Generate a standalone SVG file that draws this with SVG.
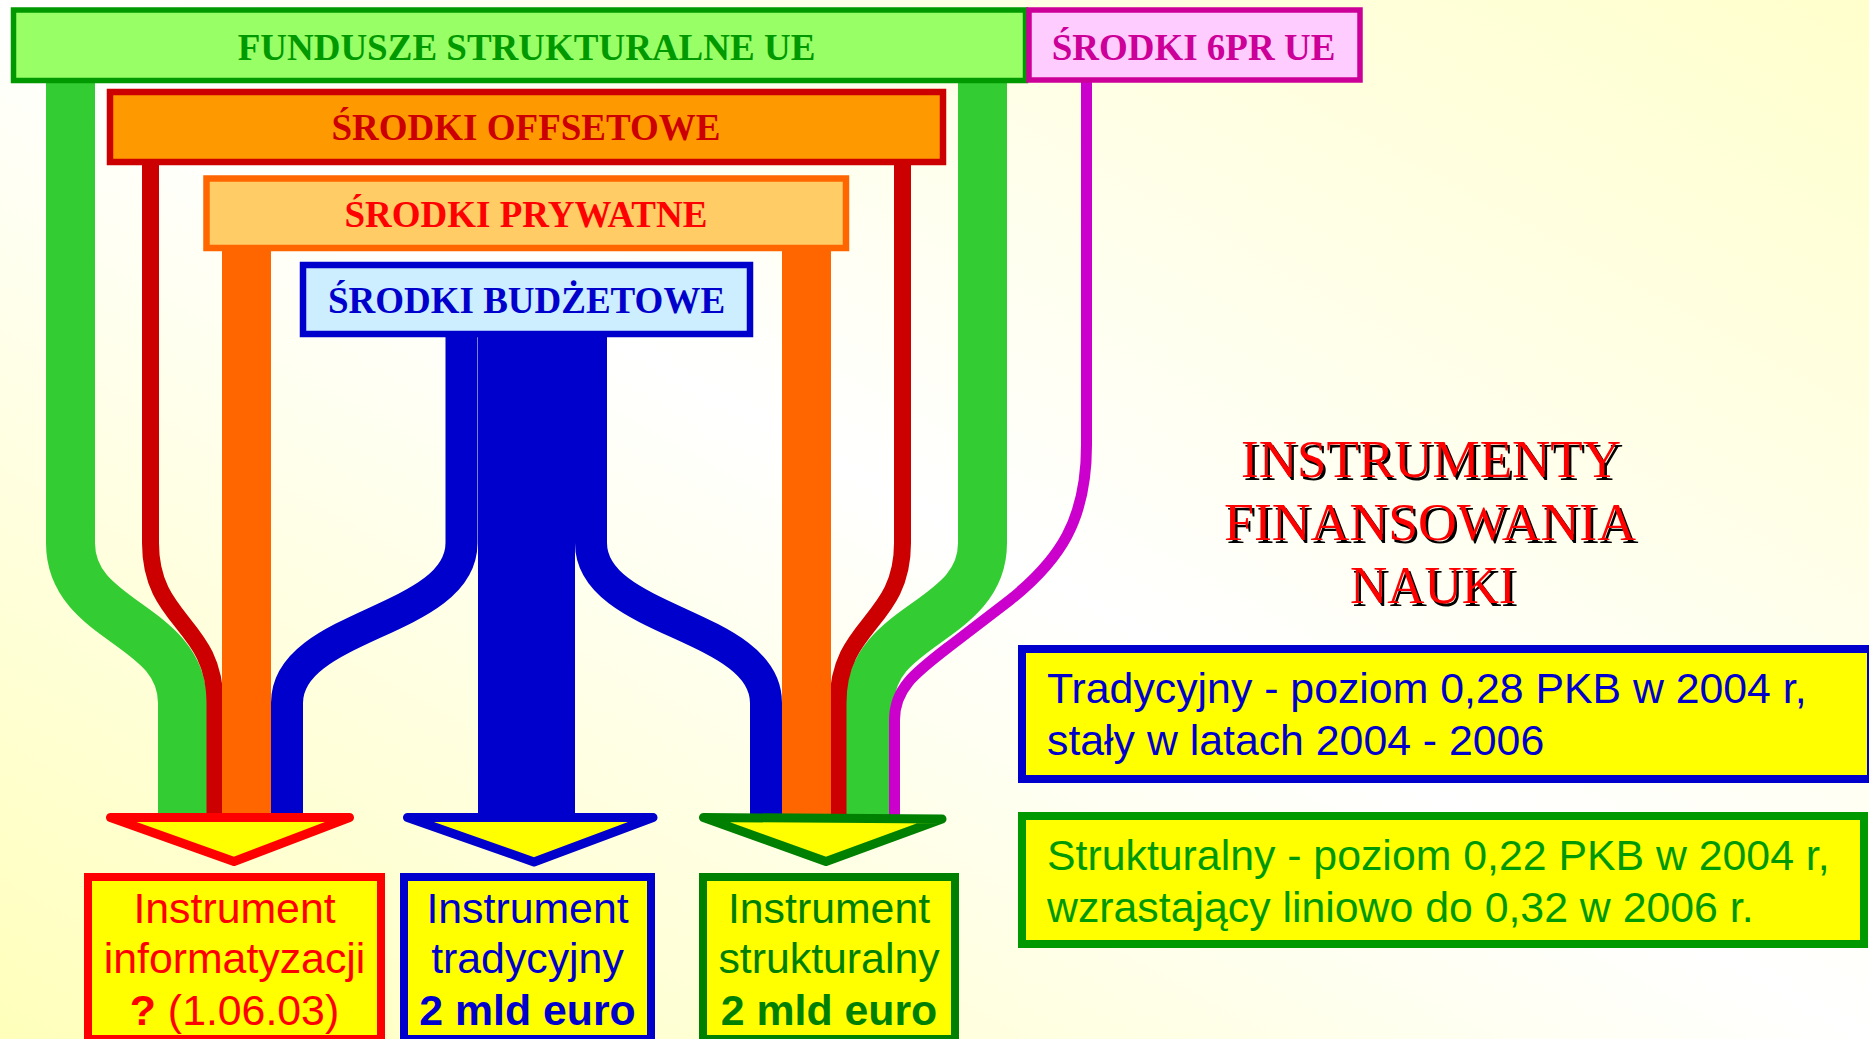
<svg xmlns="http://www.w3.org/2000/svg" width="1869" height="1039" viewBox="0 0 1869 1039">
<defs>
<linearGradient id="bg" x1="0" y1="1" x2="1" y2="0">
<stop offset="0" stop-color="#FFFFBB"/>
<stop offset="0.5" stop-color="#FFFFFF"/>
<stop offset="1" stop-color="#FFFFCC"/>
</linearGradient>
<style>
.hdr{font-family:"Liberation Serif","Times New Roman",serif;font-weight:bold;font-size:37px;text-anchor:middle}
.sans{font-family:"Liberation Sans",Arial,sans-serif;font-size:42.8px}
.mid{text-anchor:middle}
.b{font-weight:bold}
.flow{fill:none;stroke-linecap:butt}
.title{font-family:"Liberation Serif","Times New Roman",serif;font-size:52px;text-anchor:middle}
.tri{fill:#FFFF00;stroke-width:9;stroke-linejoin:round}
.ibox{fill:#FFFF00;stroke-width:8}
</style>
</defs>
<rect x="0" y="0" width="1869" height="1039" fill="url(#bg)"/>

<g id="connectors">
<path class="flow" stroke="#33CC33" stroke-width="49" d="M70.5 80 V543 C70.5 623 182.5 623 182.5 703 V815"/>
<path class="flow" stroke="#33CC33" stroke-width="49" d="M982.5 80 V543 C982.5 623 870 623 870 703 V815"/>
<path class="flow" stroke="#CC0000" stroke-width="17" d="M150.5 160 V543 C150.5 623 215 623 215 703 V815"/>
<path class="flow" stroke="#CC0000" stroke-width="17" d="M902.5 160 V543 C902.5 623 838 623 838 703 V815"/>
<path class="flow" stroke="#FF6600" stroke-width="49" d="M246.5 248 V815"/>
<path class="flow" stroke="#FF6600" stroke-width="49" d="M806.5 248 V815"/>
<path class="flow" stroke="#0000CC" stroke-width="97" d="M526.5 334 V815"/>
<path class="flow" stroke="#0000CC" stroke-width="32" d="M461.5 334 V543 C461.5 623 287 623 287 703 V815"/>
<path class="flow" stroke="#0000CC" stroke-width="32" d="M591 334 V543 C591 623 766 623 766 703 V815"/>
<path class="flow" stroke="#CC00CC" stroke-width="11" d="M1086.5 80 V445 C1086.5 520 1060 560 1010 600 L950 646 C915 673 894.5 688 894.5 720 V815"/>
</g>

<g id="fundusze">
<rect x="13.5" y="10" width="1012" height="70.5" fill="#99FF66" stroke="#009900" stroke-width="5.5"/>
<text class="hdr" x="526.5" y="60" fill="#009900">FUNDUSZE STRUKTURALNE UE</text>
</g>
<g id="srodki6pr">
<rect x="1029" y="10" width="331" height="70" fill="#FFCCFF" stroke="#CC0099" stroke-width="5.5"/>
<text class="hdr" x="1193.5" y="60" fill="#CC0099">ŚRODKI 6PR UE</text>
</g>
<g id="offsetowe">
<rect x="110" y="92" width="833" height="70" fill="#FF9900" stroke="#CC0000" stroke-width="6.5"/>
<text class="hdr" x="526" y="140" fill="#CC0000">ŚRODKI OFFSETOWE</text>
</g>
<g id="prywatne">
<rect x="206.5" y="178.5" width="639.5" height="69.5" fill="#FFCC66" stroke="#FF6600" stroke-width="6.5"/>
<text class="hdr" x="526" y="227" fill="#FF0000">ŚRODKI PRYWATNE</text>
</g>
<g id="budzetowe">
<rect x="303" y="265" width="447" height="69" fill="#CCEEFF" stroke="#0000CC" stroke-width="6.5"/>
<text class="hdr" x="526.5" y="313" fill="#0000CC">ŚRODKI BUDŻETOWE</text>
</g>

<g id="arrow-informatyzacji">
<polygon class="tri" stroke="#FF0000" points="110.5,817.5 349.5,817.5 234,861.5"/>
</g>
<g id="arrow-tradycyjny">
<polygon class="tri" stroke="#0000CC" points="407.5,817.5 653,817.5 534,862"/>
</g>
<g id="arrow-strukturalny">
<polygon class="tri" stroke="#008000" points="703.5,817.5 942,819 826,861.5"/>
</g>

<g id="instrument-informatyzacji">
<rect class="ibox" x="88" y="877" width="293" height="162" stroke="#FF0000"/>
<text class="sans mid" fill="#FF0000"><tspan x="234.5" y="923">Instrument</tspan><tspan x="234.5" y="973">informatyzacji</tspan><tspan x="234.5" y="1025"><tspan class="b">?</tspan> (1.06.03)</tspan></text>
</g>
<g id="instrument-tradycyjny">
<rect class="ibox" x="404" y="877" width="247" height="162" stroke="#0000CC"/>
<text class="sans mid" fill="#0000CC"><tspan x="527.5" y="923">Instrument</tspan><tspan x="527.5" y="973">tradycyjny</tspan><tspan class="b" x="527.5" y="1025">2 mld euro</tspan></text>
</g>
<g id="instrument-strukturalny">
<rect class="ibox" x="703" y="877" width="252" height="162" stroke="#008000"/>
<text class="sans mid" fill="#008000"><tspan x="829" y="923">Instrument</tspan><tspan x="829" y="973">strukturalny</tspan><tspan class="b" x="829" y="1025">2 mld euro</tspan></text>
</g>

<g id="title">
<g fill="#000000" transform="translate(2.5,2.5)">
<text class="title" x="1431" y="477" textLength="380" lengthAdjust="spacingAndGlyphs">INSTRUMENTY</text>
<text class="title" x="1430" y="540" textLength="412" lengthAdjust="spacingAndGlyphs">FINANSOWANIA</text>
<text class="title" x="1433" y="603" textLength="166" lengthAdjust="spacingAndGlyphs">NAUKI</text>
</g>
<g fill="#FF0000">
<text class="title" x="1431" y="477" textLength="380" lengthAdjust="spacingAndGlyphs">INSTRUMENTY</text>
<text class="title" x="1430" y="540" textLength="412" lengthAdjust="spacingAndGlyphs">FINANSOWANIA</text>
<text class="title" x="1433" y="603" textLength="166" lengthAdjust="spacingAndGlyphs">NAUKI</text>
</g>
</g>

<g id="opis-tradycyjny">
<rect class="ibox" x="1022" y="649" width="849" height="130" stroke="#0000CC"/>
<text class="sans" fill="#0000CC"><tspan x="1047" y="703">Tradycyjny - poziom 0,28 PKB w 2004 r,</tspan><tspan x="1047" y="755">stały w latach 2004 - 2006</tspan></text>
</g>
<g id="opis-strukturalny">
<rect class="ibox" x="1022" y="816" width="842" height="128" stroke="#009900"/>
<text class="sans" fill="#009900"><tspan x="1047" y="870">Strukturalny - poziom 0,22 PKB w 2004 r,</tspan><tspan x="1047" y="922">wzrastający liniowo do 0,32 w 2006 r.</tspan></text>
</g>
</svg>
